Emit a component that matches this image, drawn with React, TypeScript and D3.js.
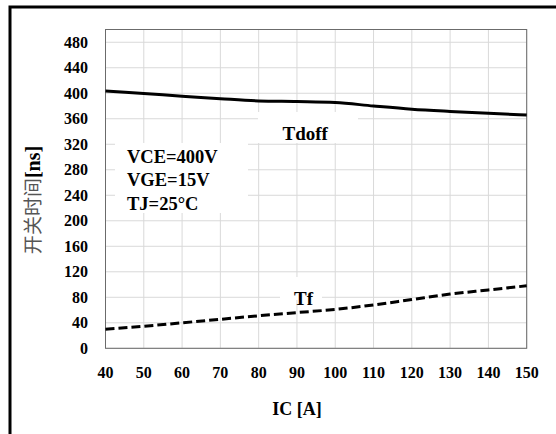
import React, { useEffect, useRef } from "react";
import * as d3 from "d3";

const icValues = [40, 50, 60, 70, 80, 90, 100, 110, 120, 130, 140, 150];
const tdoffValues = [403.5, 399.5, 395.5, 391.5, 388, 387, 385.5, 380, 375, 371.5, 368.5, 366];
const tfValues = [30, 34.5, 40, 45.5, 51, 56, 61, 68, 76.5, 85, 91.5, 98];
const xTicks = [40, 50, 60, 70, 80, 90, 100, 110, 120, 130, 140, 150];
const yTicks = [0, 40, 80, 120, 160, 200, 240, 280, 320, 360, 400, 440, 480];
const conditionLines = ["VCE=400V", "VGE=15V", "TJ=25°C"];

const W = 556;
const H = 434;
const M = { left: 105.5, top: 29.5, right: 526.7, bottom: 348.3 };
const SERIF = "Liberation Serif";

export default function App() {
  const ref = useRef<SVGSVGElement | null>(null);

  useEffect(() => {
    const svg = d3.select(ref.current);
    svg.selectAll("*").remove();

    const x = d3.scaleLinear().domain([40, 150]).range([M.left, M.right]);
    const y = d3.scaleLinear().domain([0, 500]).range([M.bottom, M.top]);

    svg.append("rect").attr("width", W).attr("height", H).attr("fill", "#fff");

    // outer frame (extends past the right/bottom edges)
    svg.append("rect")
      .attr("x", 10).attr("y", 7)
      .attr("width", W + 20).attr("height", H + 20)
      .attr("fill", "none").attr("stroke", "#000").attr("stroke-width", 3);

    const g = svg.append("g");

    // gridlines
    g.selectAll("line.hg").data(yTicks.concat([500])).enter().append("line")
      .attr("x1", M.left).attr("x2", M.right)
      .attr("y1", (d) => y(d)).attr("y2", (d) => y(d))
      .attr("stroke", "#d9d9d9").attr("stroke-width", 1);
    g.selectAll("line.vg").data(xTicks).enter().append("line")
      .attr("y1", M.top).attr("y2", M.bottom)
      .attr("x1", (d) => x(d)).attr("x2", (d) => x(d))
      .attr("stroke", "#d9d9d9").attr("stroke-width", 1);

    // plot border
    g.append("rect")
      .attr("x", M.left).attr("y", M.top)
      .attr("width", M.right - M.left).attr("height", M.bottom - M.top)
      .attr("fill", "none").attr("stroke", "#6b6b6b").attr("stroke-width", 1);

    // label boxes (white, hide gridlines)
    const boxes = [
      { x0: 115, y0: 143, x1: 248, y1: 213 },
      { x0: 258, y0: 112, x1: 358, y1: 143 },
      { x0: 280, y0: 277, x1: 322, y1: 300 },
    ];
    g.selectAll("rect.box").data(boxes).enter().append("rect")
      .attr("x", (d) => d.x0).attr("y", (d) => d.y0)
      .attr("width", (d) => d.x1 - d.x0).attr("height", (d) => d.y1 - d.y0)
      .attr("fill", "#fff");

    const line = d3.line<number>()
      .x((_, i) => x(icValues[i]))
      .curve(d3.curveMonotoneX);

    g.append("path")
      .attr("d", line.y((d) => y(d))(tdoffValues))
      .attr("fill", "none").attr("stroke", "#000").attr("stroke-width", 3);

    g.append("path")
      .attr("d", line.y((d) => y(d))(tfValues))
      .attr("fill", "none").attr("stroke", "#000").attr("stroke-width", 3)
      .attr("stroke-dasharray", "9,4");

    const txt = { "font-family": SERIF };

    // y ticks
    g.selectAll("text.yt").data(yTicks).enter().append("text")
      .attr("x", 88).attr("y", (d) => y(d)).attr("dy", "0.35em")
      .attr("text-anchor", "end")
      .style("font-family", SERIF).attr("font-weight", "bold").attr("font-size", 16)
      .attr("fill", "#000")
      .text((d) => String(d));

    // x ticks
    g.selectAll("text.xt").data(xTicks).enter().append("text")
      .attr("x", (d) => x(d)).attr("y", 378)
      .attr("text-anchor", "middle")
      .style("font-family", SERIF).attr("font-weight", "bold").attr("font-size", 16)
      .attr("fill", "#000")
      .text((d) => String(d));

    // x title
    g.append("text")
      .attr("x", 297).attr("y", 415)
      .attr("text-anchor", "middle")
      .style("font-family", SERIF).attr("font-weight", "bold").attr("font-size", 18)
      .text("IC [A]");

    // y title
    const yt = g.append("text")
      .attr("transform", "translate(40,200) rotate(-90)")
      .attr("text-anchor", "middle")
      .attr("font-size", 20);
    yt.append("tspan")
      .style("font-family", "Noto Sans CJK SC")
      .attr("fill", "#555").attr("font-size", 19)
      .text("开关时间");
    yt.append("tspan")
      .style("font-family", SERIF).attr("font-weight", "bold").attr("fill", "#000")
      .text("[ns]");

    // condition text
    g.selectAll("text.cond").data(conditionLines).enter().append("text")
      .attr("x", 127).attr("y", (_, i) => 162.5 + i * 23.5)
      .style("font-family", SERIF).attr("font-weight", "bold").attr("font-size", 18.5)
      .text((d) => d);

    g.append("text")
      .attr("x", 282.5).attr("y", 139.5)
      .style("font-family", SERIF).attr("font-weight", "bold").attr("font-size", 19)
      .text("Tdoff");

    g.append("text")
      .attr("x", 294).attr("y", 305)
      .style("font-family", SERIF).attr("font-weight", "bold").attr("font-size", 19)
      .text("Tf");
    void txt;
  }, []);

  return (
    <svg
      ref={ref}
      width={W}
      height={H}
      style={{ position: "absolute", left: 0, top: 0, display: "block" }}
    />
  );
}
